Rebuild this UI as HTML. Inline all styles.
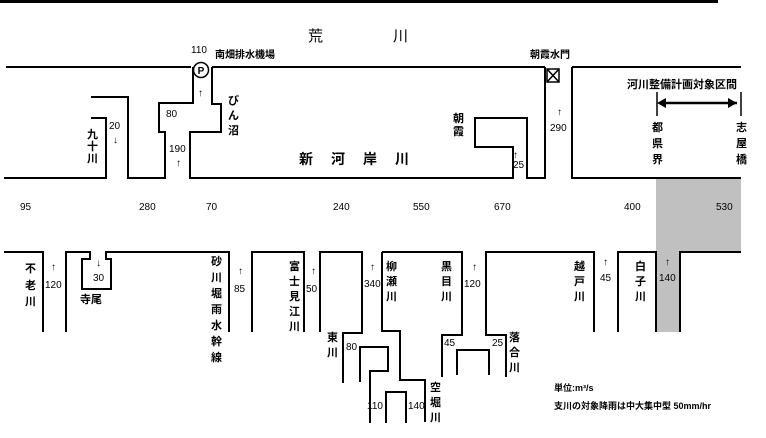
<!DOCTYPE html>
<html><head><meta charset="utf-8"><style>
html,body{margin:0;padding:0;background:#fff;}
svg{display:block;}
text{font-family:"Liberation Sans","Noto Sans CJK JP",sans-serif;fill:#000;}
.n{font-size:10px;}
.j{font-size:11px;font-weight:bold;}
</style></head><body>
<svg width="766" height="438" viewBox="0 0 766 438" xmlns="http://www.w3.org/2000/svg">
<g fill="none" stroke="#000" stroke-width="2">
<line x1="0" y1="1.5" x2="718" y2="1.5" stroke-width="3"/>
<line x1="6" y1="67" x2="191" y2="67"/>
<line x1="212" y1="67" x2="545" y2="67"/>
<line x1="572" y1="67" x2="741" y2="67"/>
<polyline points="4,178 106,178 106,118 91,118"/>
<polyline points="91,97 128,97 128,178 165,178 165,132 159,132 159,103 193,103 193,67"/>
<polyline points="212,67 212,104 221,104 221,132 190,132 190,178 513,178 513,147 475,147 475,118 527,118 527,178 545,178 545,67"/>
<polyline points="572,67 572,178 741,178"/>
<rect x="547" y="69" width="12" height="13" stroke-width="1.5"/>
<line x1="547" y1="69" x2="559" y2="82" stroke-width="1.5"/>
<line x1="559" y1="69" x2="547" y2="82" stroke-width="1.5"/>
<circle cx="201" cy="70" r="7.5" stroke-width="1.5"/>
<line x1="657" y1="92" x2="657" y2="116" stroke-width="1.5"/>
<line x1="741" y1="92" x2="741" y2="116" stroke-width="1.5"/>
<line x1="661" y1="103" x2="737" y2="103" stroke-width="2.5"/>
</g>
<polygon points="657,103 666,98 666,108" fill="#000"/>
<polygon points="737,103 728,98 728,108" fill="#000"/>
<rect x="656" y="179" width="85" height="73" fill="#c0c0c0"/>
<rect x="656" y="252" width="24" height="80" fill="#c0c0c0"/>
<g fill="none" stroke="#000" stroke-width="2">
<polyline points="4,252 43,252 43,332"/>
<polyline points="66,332 66,252 90,252 90,259 82,259 82,289 111,289 111,259 106,259 106,252 229,252 229,332"/>
<polyline points="252,332 252,252 304,252 304,332"/>
<polyline points="320,332 320,252 362,252 362,333 343,333 343,383"/>
<polyline points="360,382 360,347 388,347 388,371 370,371 370,423"/>
<polyline points="386,423 386,392 406,392 406,423"/>
<polyline points="382,252 382,331 400,331 400,380 425,380 425,422"/>
<polyline points="382,252 462,252 462,335 442,335 442,377"/>
<polyline points="457,375 457,350 489,350 489,375"/>
<polyline points="506,377 506,335 486,335 486,252 594,252 594,332"/>
<polyline points="618,332 618,252 656,252 656,332"/>
<polyline points="680,332 680,252 741,252"/>
</g>
<text x="308" y="41" font-size="15">荒</text>
<text x="393" y="41" font-size="15">川</text>
<text x="191" y="53" class="n">110</text>
<text x="215" y="58" font-size="10" font-weight="bold">南畑排水機場</text>
<text x="201" y="74" font-size="10" font-weight="bold" text-anchor="middle">P</text>
<text x="530" y="58" font-size="10" font-weight="bold">朝霞水門</text>
<text x="627" y="88" font-size="11" font-weight="bold">河川整備計画対象区間</text>
<text x="299" y="164" font-size="14" font-weight="bold" letter-spacing="18">新河岸川</text>
<g class="j">
<text x="87" y="138">九</text><text x="87" y="150">十</text><text x="87" y="162">川</text>
<text x="228" y="104">び</text><text x="228" y="119">ん</text><text x="228" y="134">沼</text>
<text x="453" y="122">朝</text><text x="453" y="135">霞</text>
<text x="652" y="131">都</text><text x="652" y="147">県</text><text x="652" y="163">界</text>
<text x="736" y="131">志</text><text x="736" y="147">屋</text><text x="736" y="163">橋</text>
</g>
<g class="n">
<text x="109" y="129">20</text><text x="113" y="143">↓</text>
<text x="166" y="117">80</text>
<text x="169" y="152">190</text><text x="176" y="166">↑</text>
<text x="198" y="96">↑</text>
<text x="513" y="158">↑</text><text x="513" y="168">25</text>
<text x="557" y="115">↑</text><text x="550" y="131">290</text>
<text x="20" y="210">95</text><text x="139" y="210">280</text><text x="206" y="210">70</text>
<text x="333" y="210">240</text><text x="413" y="210">550</text><text x="494" y="210">670</text>
<text x="624" y="210">400</text><text x="716" y="210">530</text>
</g>
<g class="j">
<text x="25" y="272">不</text><text x="25" y="289">老</text><text x="25" y="305">川</text>
<text x="80" y="303">寺尾</text>
<text x="211" y="265">砂</text><text x="211" y="281">川</text><text x="211" y="297">堀</text><text x="211" y="313">雨</text><text x="211" y="329">水</text><text x="211" y="345">幹</text><text x="211" y="361">線</text>
<text x="289" y="270">富</text><text x="289" y="285">士</text><text x="289" y="300">見</text><text x="289" y="315">江</text><text x="289" y="330">川</text>
<text x="327" y="341">東</text><text x="327" y="356">川</text>
<text x="386" y="270">柳</text><text x="386" y="285">瀬</text><text x="386" y="300">川</text>
<text x="441" y="270">黒</text><text x="441" y="285">目</text><text x="441" y="300">川</text>
<text x="509" y="341">落</text><text x="509" y="356">合</text><text x="509" y="371">川</text>
<text x="430" y="391">空</text><text x="430" y="406">堀</text><text x="430" y="421">川</text>
<text x="574" y="270">越</text><text x="574" y="285">戸</text><text x="574" y="300">川</text>
<text x="635" y="270">白</text><text x="635" y="285">子</text><text x="635" y="300">川</text>
</g>
<g class="n">
<text x="51" y="270">↑</text><text x="45" y="288">120</text>
<text x="96" y="266">↓</text><text x="93" y="281">30</text>
<text x="238" y="274">↑</text><text x="234" y="292">85</text>
<text x="311" y="274">↑</text><text x="306" y="292">50</text>
<text x="370" y="270">↑</text><text x="364" y="287">340</text>
<text x="346" y="350">80</text>
<text x="472" y="270">↑</text><text x="464" y="287">120</text>
<text x="444" y="346">45</text><text x="492" y="346">25</text>
<text x="367" y="409">110</text><text x="408" y="409">140</text>
<text x="603" y="265">↑</text><text x="600" y="281">45</text>
<text x="665" y="265">↑</text><text x="659" y="281">140</text>
</g>
<text x="554" y="391" font-size="9" font-weight="bold">単位:m³/s</text>
<text x="554" y="409" font-size="9" font-weight="bold">支川の対象降雨は中大集中型 50mm/hr</text>
</svg>
</body></html>
